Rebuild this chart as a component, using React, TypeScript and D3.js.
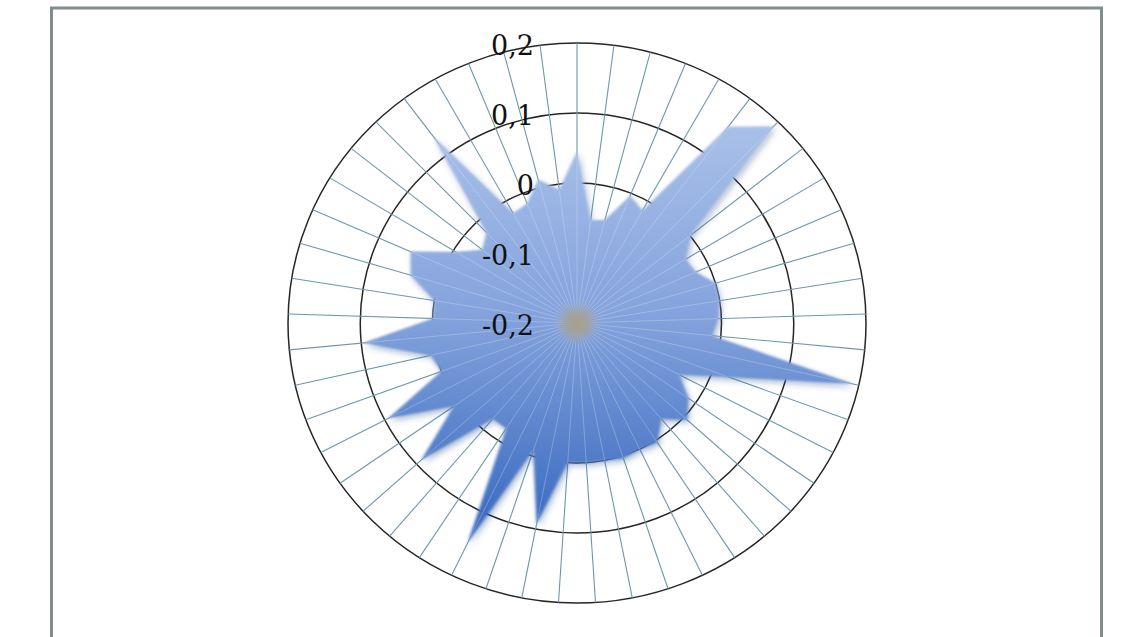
import React from "react";
import * as d3 from "d3";

// Radar series: one value per spoke, clockwise from the top
const values: number[] = [
  0.045, -0.052, -0.048, -0.004, -0.016, 0.15, 0.191, 0.002, -0.024, -0.02,
  0.0, 0.0, -0.004, -0.012, 0.192, 0.024, -0.04, -0.012, 0.006, -0.02,
  0.004, 0.0, 0.004, 0.0, 0.0, 0.0, 0.092, -0.008, 0.148, -0.02,
  -0.02, 0.091, 0.008, 0.095, 0.0, 0.008, 0.097, 0.0, 0.0, 0.04,
  0.052, -0.004, -0.032, -0.02, 0.132, -0.02, -0.016, 0.012, -0.008,
];
const categories: number[] = values.map((_, i) => i + 1);

const ringValues: number[] = [-0.1, 0, 0.1, 0.2];
const tickValues: number[] = [-0.2, -0.1, 0, 0.1, 0.2];
const tickLabels: string[] = ["-0,2", "-0,1", "0", "0,1", "0,2"];

export default function App() {
  const W = 1138;
  const H = 637;
  const cx = 577;
  const cy = 323;
  const R = 280;
  const sx = 289 / 280;

  const r = d3.scaleLinear().domain([-0.2, 0.2]).range([0, R]);
  const angle = d3
    .scaleLinear()
    .domain([0, categories.length])
    .range([0, 2 * Math.PI]);

  const area = d3
    .lineRadial<number>()
    .angle((_, i) => angle(i))
    .radius((d) => r(d))
    .curve(d3.curveLinearClosed);

  const shape = area(values) || "";
  const plot = `translate(${cx},${cy}) scale(${sx},1)`;

  const spokes = categories.map((c, i) => {
    const a = angle(i);
    return { id: c, x: R * Math.sin(a), y: -R * Math.cos(a) };
  });

  return (
    <svg
      width={W}
      height={H}
      style={{ position: "absolute", left: 0, top: 0, background: "#fff" }}
    >
      <defs>
        <linearGradient
          id="fillGrad"
          gradientUnits="userSpaceOnUse"
          x1={0}
          y1={-200}
          x2={0}
          y2={225}
        >
          <stop offset="0" stopColor="#a9c0e9" />
          <stop offset="0.45" stopColor="#84a3dc" />
          <stop offset="1" stopColor="#3265bd" />
        </linearGradient>
        <radialGradient id="core">
          <stop offset="0" stopColor="#a8997a" stopOpacity={0.95} />
          <stop offset="0.5" stopColor="#a59e88" stopOpacity={0.6} />
          <stop offset="1" stopColor="#9aa8c8" stopOpacity={0} />
        </radialGradient>
        <filter id="soft" x="-10%" y="-10%" width="125%" height="125%">
          <feGaussianBlur in="SourceAlpha" stdDeviation={3} result="blurA" />
          <feOffset in="blurA" dx={1.5} dy={3} result="off" />
          <feFlood floodColor="#1d3f7a" floodOpacity={0.35} />
          <feComposite in2="off" operator="in" result="shadow" />
          <feGaussianBlur in="SourceGraphic" stdDeviation={1.3} result="body" />
          <feMerge>
            <feMergeNode in="shadow" />
            <feMergeNode in="body" />
          </feMerge>
        </filter>
        <clipPath id="shapeClip">
          <path d={shape} />
        </clipPath>
      </defs>

      <rect
        x={51.5}
        y={8}
        width={1050}
        height={700}
        fill="#fff"
        stroke="#7f8d8d"
        strokeWidth={3}
      />

      <g transform={plot}>
        {ringValues.map((v) => (
          <circle
            key={v}
            r={r(v)}
            fill="none"
            stroke="#262626"
            strokeWidth={1.5}
            vectorEffect="non-scaling-stroke"
          />
        ))}
        {spokes.map((s) => (
          <line
            key={s.id}
            x1={0}
            y1={0}
            x2={s.x}
            y2={s.y}
            stroke="#6c98aa"
            strokeWidth={1.1}
            vectorEffect="non-scaling-stroke"
          />
        ))}
        <path d={shape} fill="url(#fillGrad)" filter="url(#soft)" />
        <g clipPath="url(#shapeClip)">
          {spokes.map((s) => (
            <line
              key={s.id}
              x1={0}
              y1={0}
              x2={s.x}
              y2={s.y}
              stroke="#e4ecf8"
              strokeOpacity={0.3}
              strokeWidth={1}
              vectorEffect="non-scaling-stroke"
            />
          ))}
        </g>
        <circle r={24} fill="url(#core)" />
      </g>

      {tickValues.map((v, i) => (
        <text
          key={v}
          x={534}
          y={cy - r(v) + 12}
          textAnchor="end"
          fontFamily="'DejaVu Serif', serif"
          fontSize={27}
          fill="#111"
        >
          {tickLabels[i]}
        </text>
      ))}
    </svg>
  );
}
